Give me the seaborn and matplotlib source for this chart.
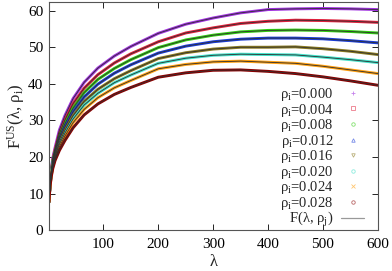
"""
F^US(lambda, rho_i) curves for several impurity densities, gnuplot look.
"""

import numpy as np
import pandas as pd
import seaborn as sns
import matplotlib
matplotlib.use("Agg")
import matplotlib.pyplot as plt
from matplotlib.lines import Line2D


LAMBDA = [1, 2, 3, 5, 8, 12, 20, 30, 45, 65, 90, 120, 150, 200,
          250, 300, 350, 400, 450, 500, 550, 600]

RHO_LABELS = ["0.000", "0.004", "0.008", "0.012",
              "0.016", "0.020", "0.024", "0.028"]

F_RHO_000 = [7.7, 10.6, 12.8, 16.2, 19.8, 22.5, 27.4, 31.3, 36.0, 40.4, 44.3,
             47.6, 50.2, 53.8, 56.3, 58.0, 59.4, 60.3, 60.5, 60.6, 60.5, 60.3]
F_RHO_004 = [7.7, 10.5, 12.7, 15.9, 19.3, 21.9, 26.4, 30.1, 34.6, 38.8, 42.5,
             45.7, 48.2, 51.5, 53.9, 55.3, 56.5, 57.1, 57.4, 57.3, 57.1, 56.8]
F_RHO_008 = [7.7, 10.5, 12.5, 15.7, 18.9, 21.4, 25.6, 29.1, 33.4, 37.6, 41.2,
             44.2, 46.6, 49.9, 52.0, 53.3, 54.2, 54.6, 54.7, 54.6, 54.3, 53.9]
F_RHO_012 = [7.7, 10.4, 12.4, 15.4, 18.5, 20.9, 24.9, 28.2, 32.4, 36.4, 39.9,
             42.9, 45.2, 48.4, 50.3, 51.5, 52.2, 52.5, 52.5, 52.3, 51.8, 51.2]
F_RHO_016 = [7.7, 10.4, 12.3, 15.2, 18.1, 20.4, 24.1, 27.3, 31.3, 35.2, 38.5,
             41.4, 43.6, 46.9, 48.5, 49.5, 50.0, 50.0, 50.1, 49.6, 48.9, 48.0]
F_RHO_020 = [7.7, 10.3, 12.2, 15.0, 17.8, 20.1, 23.5, 26.5, 30.4, 34.2, 37.4,
             40.3, 42.4, 45.6, 47.0, 47.8, 48.1, 48.0, 47.9, 47.3, 46.6, 45.8]
F_RHO_024 = [7.7, 10.3, 12.1, 14.8, 17.4, 19.6, 22.8, 25.7, 29.4, 33.0, 36.2,
             38.9, 40.9, 44.1, 45.3, 46.0, 46.2, 45.9, 45.6, 44.8, 43.8, 42.8]
F_RHO_028 = [7.7, 10.2, 12.0, 14.5, 16.9, 19.0, 21.8, 24.5, 28.0, 31.5, 34.5,
             37.1, 39.0, 41.8, 43.0, 43.7, 43.8, 43.4, 42.8, 41.9, 40.8, 39.6]

CURVE_COLORS = ["#a030e0", "#e0203c", "#30cc10", "#1a3cd8",
                "#8a7a20", "#40e0c8", "#ffa010", "#8b0000"]
LEGEND_MARKERS = ["+", "s", "o", "^", "v", "o", "x", "o"]


def build_dataframe() -> pd.DataFrame:
    """
    Long-form table of all curves.
    """
    series = [F_RHO_000, F_RHO_004, F_RHO_008, F_RHO_012,
              F_RHO_016, F_RHO_020, F_RHO_024, F_RHO_028]
    frames = []
    for label, values in zip(RHO_LABELS, series):
        frames.append(pd.DataFrame({"lambda": LAMBDA, "F": values, "rho": label}))
    return pd.concat(frames, ignore_index=True)


def main() -> None:
    sns.set_style("ticks")
    plt.rcParams["font.family"] = ["Liberation Serif", "DejaVu Serif"]
    plt.rcParams["mathtext.fontset"] = "custom"
    plt.rcParams["mathtext.rm"] = "Liberation Serif"
    plt.rcParams["mathtext.it"] = "Liberation Serif:italic"

    df = build_dataframe()

    fig = plt.figure(figsize=(3.92, 2.71), dpi=100)
    ax = fig.add_axes([0.125, 0.151, 0.839, 0.842])

    # thick coloured bands (the dense points), then the thin fit line on top
    sns.lineplot(data=df, x="lambda", y="F", hue="rho", palette=CURVE_COLORS,
                 linewidth=2.1, legend=False, ax=ax, sort=False)
    sns.lineplot(data=df, x="lambda", y="F", units="rho", estimator=None,
                 color="#303030", linewidth=0.6, legend=False, ax=ax, sort=False)

    ax.set_xlim(1, 600)
    ax.set_ylim(0, 62.4)
    ax.set_xticks([100, 200, 300, 400, 500, 600])
    ax.set_yticks([0, 10, 20, 30, 40, 50, 60])
    ax.tick_params(direction="in", length=4, width=0.6, top=True, right=True,
                   labelsize=11, colors="black", pad=4)
    ax.tick_params(axis="x", pad=6)
    for spine in ax.spines.values():
        spine.set_visible(True)
        spine.set_linewidth(0.8)
        spine.set_color("#555555")

    ax.set_xlabel("λ", fontsize=12, labelpad=2)
    ax.set_ylabel(r"F$^{\mathrm{US}}$(λ, ρ$_{\mathrm{i}}$)", fontsize=12, labelpad=1)

    handles = []
    for label, color, marker in zip(RHO_LABELS, CURVE_COLORS, LEGEND_MARKERS):
        handles.append(Line2D([], [], linestyle="none", marker=marker,
                              markersize=2.5, markeredgewidth=0.6,
                              markerfacecolor="none", color=color, alpha=0.6,
                              label=r"ρ$_{\mathrm{i}}$=" + label))
    handles.append(Line2D([], [], color="#999999", linewidth=0.9,
                          label=r"F(λ, ρ$_{\mathrm{j}}$)"))

    ax.legend(handles=handles, loc="lower right", bbox_to_anchor=(0.985, -0.035),
              frameon=False, markerfirst=False, fontsize=10.5,
              handlelength=1.6, handletextpad=0.5, labelspacing=-0.1,
              borderaxespad=0.2)

    fig.savefig("out.png", dpi=100)


if __name__ == "__main__":
    main()
